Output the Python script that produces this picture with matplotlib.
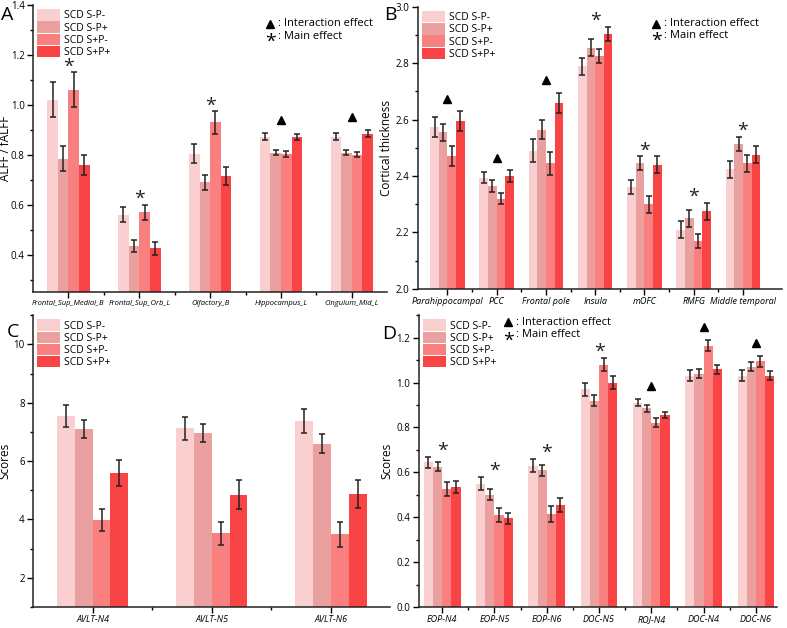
import numpy as np
import matplotlib
matplotlib.use('Agg')
import matplotlib.pyplot as plt
from matplotlib.patches import Patch
from matplotlib.ticker import AutoMinorLocator, MultipleLocator

groups = ['SCD S-P-', 'SCD S-P+', 'SCD S+P-', 'SCD S+P+']
colors = ['#F9CFCF', '#EBA0A0', '#FA8080', '#F84444']

# panel A
a_labels = ['Frontal_Sup_Medial_B', 'Frontal_Sup_Orb_L', 'Olfactory_B', 'Hippocampus_L', 'Cingulum_Mid_L']
a_vals = [[1.02, 0.56, 0.805, 0.873, 0.873],
          [0.785, 0.435, 0.69, 0.808, 0.808],
          [1.06, 0.57, 0.93, 0.805, 0.80],
          [0.76, 0.425, 0.715, 0.872, 0.885]]
a_errs = [[0.07, 0.03, 0.04, 0.015, 0.015],
          [0.05, 0.025, 0.03, 0.01, 0.01],
          [0.07, 0.03, 0.045, 0.012, 0.01],
          [0.04, 0.025, 0.035, 0.012, 0.015]]
a_marks = ['*', '*', '*', '^', '^']

# panel B
b_labels = ['Parahippocampal', 'PCC', 'Frontal pole', 'Insula', 'mOFC', 'RMFG', 'Middle temporal']
b_vals = [[2.575, 2.395, 2.49, 2.79, 2.36, 2.21, 2.425],
          [2.555, 2.365, 2.565, 2.855, 2.445, 2.25, 2.515],
          [2.47, 2.32, 2.445, 2.825, 2.30, 2.17, 2.445],
          [2.595, 2.40, 2.66, 2.905, 2.44, 2.275, 2.475]]
b_errs = [[0.035, 0.02, 0.04, 0.03, 0.025, 0.03, 0.03],
          [0.03, 0.02, 0.035, 0.03, 0.025, 0.03, 0.025],
          [0.035, 0.02, 0.04, 0.025, 0.03, 0.025, 0.03],
          [0.035, 0.02, 0.035, 0.025, 0.03, 0.03, 0.03]]
b_marks = ['^', '^', '^', '*', '*', '*', '*']

# panel C
c_labels = ['AVLT-N4', 'AVLT-N5', 'AVLT-N6']
c_vals = [[7.55, 7.12, 7.37],
          [7.1, 6.97, 6.6],
          [3.97, 3.52, 3.5],
          [5.6, 4.85, 4.87]]
c_errs = [[0.37, 0.38, 0.42],
          [0.3, 0.3, 0.33],
          [0.38, 0.4, 0.43],
          [0.45, 0.5, 0.47]]

# panel D
d_labels = ['EOP-N4', 'EOP-N5', 'EOP-N6', 'DOC-N5', 'ROJ-N4', 'DOC-N4', 'DOC-N6']
d_vals = [[0.645, 0.55, 0.63, 0.97, 0.91, 1.03, 1.03],
          [0.625, 0.50, 0.61, 0.92, 0.885, 1.04, 1.07],
          [0.525, 0.41, 0.415, 1.08, 0.82, 1.165, 1.095],
          [0.535, 0.395, 0.455, 1.0, 0.855, 1.06, 1.03]]
d_errs = [[0.025, 0.03, 0.03, 0.03, 0.015, 0.025, 0.025],
          [0.02, 0.025, 0.025, 0.025, 0.015, 0.02, 0.02],
          [0.03, 0.03, 0.035, 0.03, 0.02, 0.025, 0.025],
          [0.025, 0.025, 0.03, 0.03, 0.015, 0.02, 0.02]]
d_marks = ['*', '*', '*', '*', '^', '^', '^']

plt.rcParams['font.family'] = ['Open Sans', 'DejaVu Sans']
fig = plt.figure(figsize=(7.87, 6.28), dpi=100)


def draw_panel(rect, labels, vals, errs, ylim, ymajor, xlim, group_w, ylabel, label_x,
               xfont=6.5, marks=None):
    ax = fig.add_axes(rect)
    n = len(labels)
    x = np.arange(n)
    w = group_w / 4
    rng = ylim[1] - ylim[0]
    for i in range(4):
        ax.bar(x + (i - 1.5) * w, vals[i], w, color=colors[i], zorder=1)
        ax.errorbar(x + (i - 1.5) * w, vals[i], yerr=errs[i], fmt='none', ecolor='#222222',
                    elinewidth=1.1, capsize=2.5, capthick=1.1, zorder=2)
    # significance marks above each group
    if marks is not None:
        for j in range(n):
            top = max(vals[i][j] + errs[i][j] for i in range(4))
            if marks[j] == '*':
                ax.text(x[j], top + 0.02 * rng, '*', ha='center', va='center', fontsize=14, color='#222222')
            else:
                ax.plot(x[j], top + 0.045 * rng, marker='^', color='black', markersize=6, linestyle='none')
    ax.set_xlim(*xlim)
    ax.set_ylim(*ylim)
    ax.set_xticks(x)
    ax.set_xticklabels(labels, fontsize=xfont, style='italic')
    ax.set_xticks(x[:-1] + 0.5, minor=True)
    ax.yaxis.set_major_locator(MultipleLocator(ymajor))
    ax.yaxis.set_minor_locator(AutoMinorLocator(2))
    ax.tick_params(axis='y', labelsize=7, direction='out', length=4, width=1, pad=2)
    ax.tick_params(axis='x', direction='out', length=4, width=1, pad=2)
    ax.tick_params(which='minor', direction='out', length=2.5, width=1)
    ax.spines['top'].set_visible(False)
    ax.spines['right'].set_visible(False)
    for s in ['left', 'bottom']:
        ax.spines[s].set_linewidth(1.1)
        ax.spines[s].set_color('#222222')
    ax.set_ylabel(ylabel, fontsize=8.5)
    ax.yaxis.set_label_coords(label_x, 0.5)
    handles = [Patch(facecolor=c) for c in colors]
    ax.legend(handles, groups, loc='upper left', bbox_to_anchor=(0.0, 1.0), frameon=False,
              fontsize=7.5, handlelength=2.2, handleheight=1.3, handletextpad=0.4,
              labelspacing=0.0, borderaxespad=0.2, borderpad=0.2)
    return ax


axA = draw_panel([0.042, 0.535, 0.450, 0.457], a_labels, a_vals, a_errs, (0.25, 1.4), 0.2,
                 (-0.5, 4.5), 0.6, 'ALFF / fALFF', -0.06, 5.5, a_marks)
axB = draw_panel([0.531, 0.540, 0.463, 0.449], b_labels, b_vals, b_errs, (2.0, 3.0), 0.2,
                 (-0.6, 6.8), 0.7, 'Cortical thickness', -0.068, 6.5, b_marks)
axC = draw_panel([0.042, 0.0334, 0.454, 0.4646], c_labels, c_vals, c_errs, (1, 11), 2,
                 (-0.5, 2.5), 0.6, 'Scores', -0.06)
axD = draw_panel([0.532, 0.0334, 0.455, 0.4646], d_labels, d_vals, d_errs, (0, 1.3), 0.2,
                 (-0.45, 6.4), 0.7, 'Scores', -0.07, 6.5, d_marks)

# effect legends
for ax, xt, yt in [(axA, 0.67, 0.934), (axB, 0.654, 0.94), (axD, 0.25, 0.976)]:
    ax.plot(xt, yt, marker='^', color='black', markersize=6, transform=ax.transAxes, clip_on=False)
    ax.text(xt + 0.022, yt, ': Interaction effect', transform=ax.transAxes, fontsize=8, va='center')
    ax.text(xt, yt - 0.062, '*', transform=ax.transAxes, fontsize=14, ha='center', va='center')
    ax.text(xt + 0.022, yt - 0.042, ': Main effect', transform=ax.transAxes, fontsize=8, va='center')

fig.text(0.001, 0.976, 'A', fontsize=14, va='center')
fig.text(0.488, 0.976, 'B', fontsize=14, va='center')
fig.text(0.008, 0.471, 'C', fontsize=14, va='center')
fig.text(0.486, 0.468, 'D', fontsize=14, va='center')

fig.savefig('out.png', dpi=100)
